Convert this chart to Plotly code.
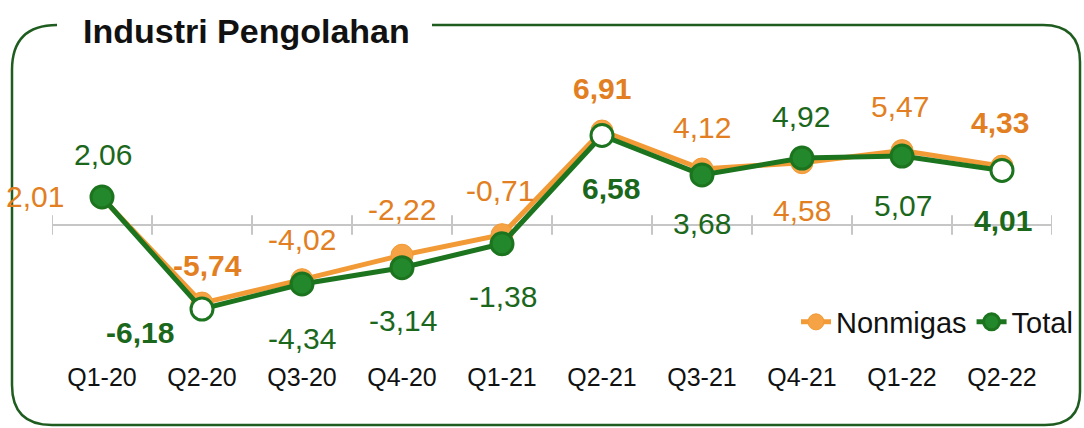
import plotly.graph_objects as go

quarters = ["Q1-20", "Q2-20", "Q3-20", "Q4-20", "Q1-21", "Q2-21", "Q3-21", "Q4-21", "Q1-22", "Q2-22"]
nonmigas = [2.01, -5.74, -4.02, -2.22, -0.71, 6.91, 4.12, 4.58, 5.47, 4.33]
total = [2.06, -6.18, -4.34, -3.14, -1.38, 6.58, 3.68, 4.92, 5.07, 4.01]
bold_quarters = ["Q2-20", "Q2-21", "Q2-22"]  # latest quarter of each year

# label offsets in pixels (xshift, yshift)
nonmigas_shift = [(-67, 1), (5, 38), (0, 40), (0, 46), (-2, 44), (0, 43), (0, 41), (0, -48), (-2, 44), (-2, 44)]
total_shift = [(1, 42), (-62, -23), (0, -54), (1, -53), (1, -53), (9, -53), (0, -49), (-1, 42), (1, -49), (1, -50)]

FONT = "Liberation Sans, Arial, sans-serif"
ORANGE_LINE = "#f29a35"
ORANGE_TEXT = "#e27f22"
GREEN_LINE = "#1c741e"
GREEN_MARKER = "#23882b"
GREEN_TEXT = "#1b671c"
FRAME = "#1f5c1f"
AXIS_GREY = "#c6c6c6"

# plot area in pixels
LEFT, TOP, WIDTH, HEIGHT = 52, 60, 1000, 300


def to_paper(px, py):
    return (px - LEFT) / WIDTH, (TOP + HEIGHT - py) / HEIGHT


def fmt(value, quarter):
    text = f"{value:.2f}".replace(".", ",")
    if quarter in bold_quarters:
        return f"<b>{text}</b>"
    return text


def frame_path():
    points = [
        ("M", [(57, 25)]),
        ("Q", [(12, 25), (12, 70)]),
        ("L", [(12, 385)]),
        ("Q", [(12, 425), (52, 425)]),
        ("L", [(1045, 425)]),
        ("Q", [(1080, 425), (1080, 392)]),
        ("L", [(1080, 62)]),
        ("Q", [(1080, 25), (1043, 25)]),
        ("L", [(432, 25)]),
    ]
    path = ""
    for cmd, pts in points:
        path += cmd + " ".join("%.4f,%.4f" % to_paper(*p) for p in pts) + " "
    return path.strip()


def build():
    x = list(range(len(quarters)))

    fig = go.Figure()

    fig.add_trace(
        go.Scatter(
            x=[i - 0.5 for i in range(len(quarters) + 1)],
            y=[0] * (len(quarters) + 1),
            mode="markers",
            marker=dict(symbol="line-ns-open", size=14, color=AXIS_GREY, line=dict(color=AXIS_GREY, width=2)),
            showlegend=False,
            hoverinfo="skip",
        )
    )

    fig.add_trace(
        go.Scatter(
            x=x,
            y=nonmigas,
            mode="lines+markers",
            name="Nonmigas",
            line=dict(color=ORANGE_LINE, width=5),
            marker=dict(size=22, color="#f5a345", line=dict(color=ORANGE_LINE, width=1)),
        )
    )

    fig.add_trace(
        go.Scatter(
            x=x,
            y=total,
            mode="lines+markers",
            name="Total",
            line=dict(color=GREEN_LINE, width=5),
            marker=dict(
                size=22,
                color=["white" if q in bold_quarters else GREEN_MARKER for q in quarters],
                line=dict(color=GREEN_LINE, width=3),
            ),
        )
    )

    annotations = []
    for i, q in enumerate(quarters):
        annotations.append(
            dict(
                x=i, y=nonmigas[i], text=fmt(nonmigas[i], q), showarrow=False,
                xanchor="center", yanchor="middle",
                xshift=nonmigas_shift[i][0], yshift=nonmigas_shift[i][1],
                font=dict(family=FONT, size=30, color=ORANGE_TEXT),
            )
        )
        annotations.append(
            dict(
                x=i, y=total[i], text=fmt(total[i], q), showarrow=False,
                xanchor="center", yanchor="middle",
                xshift=total_shift[i][0], yshift=total_shift[i][1],
                font=dict(family=FONT, size=30, color=GREEN_TEXT),
            )
        )

    tx, ty = to_paper(246, 31)
    annotations.append(
        dict(
            x=tx, y=ty, xref="paper", yref="paper", text="<b>Industri Pengolahan</b>",
            xanchor="center", yanchor="middle",
            showarrow=False, font=dict(family=FONT, size=34, color="#111111"),
        )
    )

    lx, ly = to_paper(1078, 322)
    fig.update_layout(
        width=1084,
        height=428,
        margin=dict(l=LEFT, r=1084 - LEFT - WIDTH, t=TOP, b=428 - TOP - HEIGHT, autoexpand=False),
        paper_bgcolor="white",
        plot_bgcolor="white",
        font=dict(family=FONT, color="#111111"),
        showlegend=True,
        legend=dict(
            orientation="h", x=lx, y=ly, xanchor="right", yanchor="middle",
            font=dict(family=FONT, size=29, color="#111111"), bgcolor="rgba(0,0,0,0)",
        ),
        xaxis=dict(
            range=[-0.5, len(quarters) - 0.5],
            tickvals=x,
            ticktext=quarters,
            tickfont=dict(family=FONT, size=25, color="#111111"),
            showgrid=False,
            zeroline=False,
            showline=False,
            ticks="",
        ),
        yaxis=dict(
            range=[-(TOP + HEIGHT - 225) / 13.6, (225 - TOP) / 13.6],
            showgrid=False,
            zeroline=True,
            zerolinecolor=AXIS_GREY,
            zerolinewidth=2,
            showticklabels=False,
            showline=False,
        ),
        annotations=annotations,
        shapes=[dict(type="path", xref="paper", yref="paper", path=frame_path(),
                     line=dict(color=FRAME, width=2.5))],
    )

    return fig


fig = build()
fig.write_html(
    "out.html",
    config=dict(displayModeBar=False),
    post_script="document.body.style.margin = '0';",  # no page margin
)
